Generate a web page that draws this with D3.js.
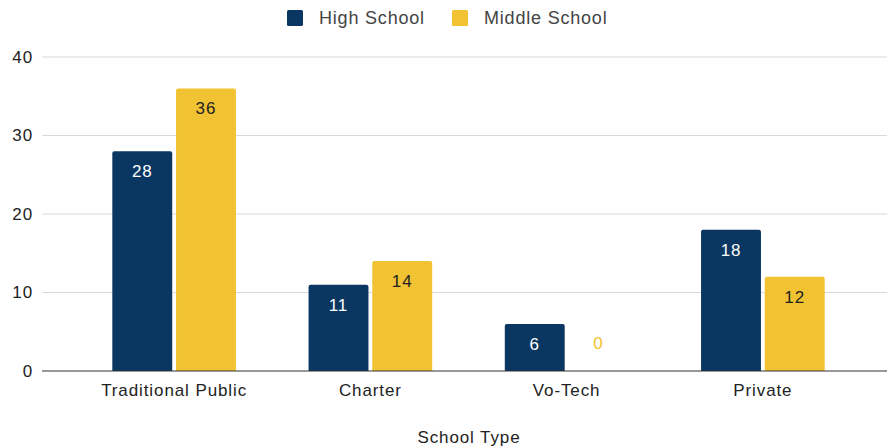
<!DOCTYPE html>
<html>
<head>
<meta charset="utf-8">
<script src="https://cdn.jsdelivr.net/npm/d3@7"></script>
<style>
  body { margin: 0; background: #fff; }
  text { font-family: "Liberation Sans", Arial, sans-serif; letter-spacing: 0.9px; }
</style>
</head>
<body>
<div id="canvas"></div>
<script>
const categories = ["Traditional Public", "Charter", "Vo-Tech", "Private"];
const seriesNames = ["High School", "Middle School"];
const highSchool = [28, 11, 6, 18];
const middleSchool = [36, 14, 0, 12];
const yTicks = [0, 10, 20, 30, 40];
const colors = ["#0a3761", "#f1c232"];
const labelColors = ["#ffffff", "#222222"];

const width = 887;
const height = 446;
const svg = d3.select("#canvas").append("svg")
    .attr("width", width)
    .attr("height", height);

const y = d3.scaleLinear().domain([0, 40]).range([371, 57]);
const x = d3.scaleBand().domain(categories).range([76, 861]).paddingInner(0.37).paddingOuter(0.185);
const xs = d3.scaleBand().domain(seriesNames).range([0, x.bandwidth()]).paddingInner(0.06);

// grid
svg.append("g").selectAll("line").data(yTicks.filter(d => d > 0)).enter().append("line")
    .attr("x1", 42).attr("x2", width)
    .attr("y1", d => y(d)).attr("y2", d => y(d))
    .attr("stroke", "#d9d9d9").attr("stroke-width", 1);

svg.append("g").selectAll("text").data(yTicks).enter().append("text")
    .attr("x", 33).attr("y", d => y(d)).attr("dy", "0.35em")
    .attr("text-anchor", "end").attr("font-size", 17).attr("fill", "#222")
    .text(d => d);

const rows = categories.map((c, i) => ({ cat: c, vals: [highSchool[i], middleSchool[i]] }));

const groups = svg.append("g").selectAll("g").data(rows).enter().append("g")
    .attr("transform", d => `translate(${x(d.cat)},0)`);

function barPath(x0, w, y0, y1, r) {
    if (y1 - y0 < 0.5) return "";
    return `M${x0},${y1}V${y0 + r}Q${x0},${y0} ${x0 + r},${y0}H${x0 + w - r}Q${x0 + w},${y0} ${x0 + w},${y0 + r}V${y1}Z`;
}

groups.selectAll("path").data(d => d.vals.map((v, j) => ({ v, s: seriesNames[j], j }))).enter().append("path")
    .attr("d", d => barPath(xs(d.s), xs.bandwidth(), y(d.v), y(0), 2))
    .attr("fill", d => colors[d.j]);

groups.selectAll("text").data(d => d.vals.map((v, j) => ({ v, s: seriesNames[j], j }))).enter().append("text")
    .attr("x", d => xs(d.s) + xs.bandwidth() / 2)
    .attr("y", d => d.v > 0 ? y(d.v) + 20 : y(0) - 28)
    .attr("dy", "0.35em")
    .attr("text-anchor", "middle").attr("font-size", 17)
    .attr("fill", d => d.v > 0 ? labelColors[d.j] : colors[d.j])
    .text(d => d.v);

// baseline
svg.append("line").attr("x1", 42).attr("x2", width)
    .attr("y1", y(0)).attr("y2", y(0))
    .attr("stroke", "#333").attr("stroke-width", 1.2);

svg.append("g").selectAll("text").data(categories).enter().append("text")
    .attr("x", d => x(d) + x.bandwidth() / 2).attr("y", 390).attr("dy", "0.35em")
    .attr("text-anchor", "middle").attr("font-size", 17).attr("fill", "#222")
    .text(d => d);

svg.append("text").attr("x", 469).attr("y", 437).attr("dy", "0.35em")
    .attr("text-anchor", "middle").attr("font-size", 17).attr("fill", "#222")
    .text("School Type");

// legend
const legendX = [287, 452];
const legend = svg.append("g").selectAll("g").data(seriesNames).enter().append("g")
    .attr("transform", (d, i) => `translate(${legendX[i]},10)`);
legend.append("rect").attr("width", 16).attr("height", 16).attr("rx", 1.5)
    .attr("fill", (d, i) => colors[i]);
legend.append("text").attr("x", 32).attr("y", 8).attr("dy", "0.35em")
    .attr("font-size", 18).attr("fill", "#444")
    .style("letter-spacing", "0.8px")
    .text(d => d);
</script>
</body>
</html>
